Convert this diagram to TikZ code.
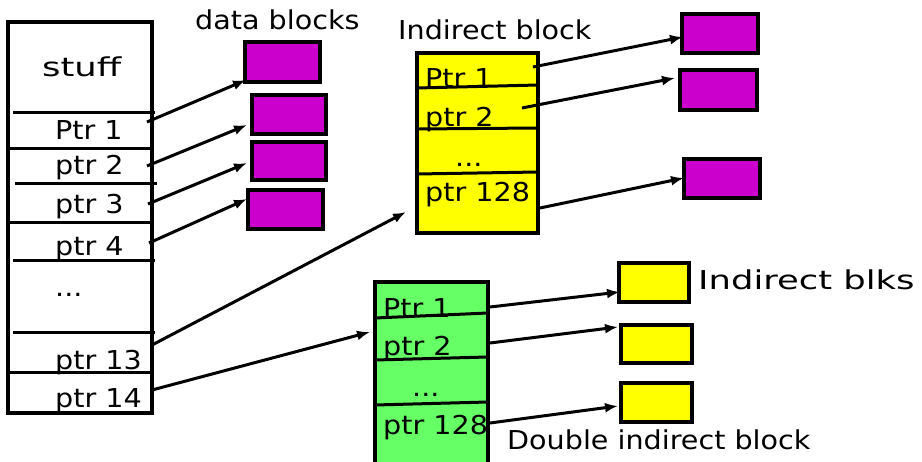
\documentclass[tikz,border=0pt]{standalone}
\usepackage{fontspec}
\setmainfont{DejaVu Sans}[FakeStretch=1.1]
\newfontfamily\widefont{DejaVu Sans}[FakeStretch=1.36]
\usetikzlibrary{arrows.meta}
\definecolor{blkmag}{HTML}{CC00CC}
\definecolor{blkyel}{HTML}{FFFF00}
\definecolor{blkgrn}{HTML}{66FF66}
\begin{document}
\begin{tikzpicture}[x=1pt,y=-1pt,
  bx/.style={draw=black,line width=3.6pt},
  divline/.style={line width=3pt},
  ptr/.style={line width=3pt,-{Latex[length=13pt,width=10pt]}},
  lbl/.style={font=\fontsize{26}{28}\selectfont,inner sep=0pt,anchor=base west},
  widelbl/.style={lbl,font=\fontsize{26}{28}\widefont},
  dblk/.style={bx,fill=blkmag},
  yblk/.style={bx,fill=blkyel}]
\useasboundingbox (0,0) rectangle (922,462);
% inode
\draw[bx] (8,22) rectangle (152,413);
\draw[divline] (13,113) -- (155,113);
\draw[divline] (8,149) -- (152,149);
\draw[divline] (15,184) -- (157,184);
\draw[divline] (8,223) -- (152,223);
\draw[divline] (13,261) -- (155,261);
\draw[divline] (13,333) -- (155,333);
\draw[divline] (8,373) -- (152,373);
\node[widelbl] (stuff) at (42,77) {stuff};
\node[lbl] (lp1) at (55,140) {Ptr 1};
\node[lbl] (lp2) at (55,175) {ptr 2};
\node[lbl] (lp3) at (55,214) {ptr 3};
\node[lbl] (lp4) at (55,256) {ptr 4};
\node[lbl] (ldots) at (55,297) {...};
\node[lbl] (lp13) at (55,370) {ptr 13};
\node[lbl] (lp14) at (55,408) {ptr 14};
% data blocks
\node[lbl] (dlabel) at (195,30) {data blocks};
\draw[dblk] (245,42) rectangle (320,82);
\draw[dblk] (252,95) rectangle (326,134);
\draw[dblk] (252,142) rectangle (326,180);
\draw[dblk] (248,190) rectangle (323,229);
% indirect block
\node[lbl] (ilabel) at (398,40) {Indirect block};
\draw[bx,fill=blkyel] (417,53) rectangle (538,233);
\draw[divline] (417,88) -- (538,85);
\draw[divline] (417,129) -- (538,128);
\draw[divline] (417,174) -- (538,172);
\node[lbl] (ip1) at (425,88) {Ptr 1};
\node[lbl] (ip2) at (425,127) {ptr 2};
\node[lbl] (idots) at (455,167) {...};
\node[lbl] (ip128) at (425,202) {ptr 128};
\draw[dblk] (682,14) rectangle (758,53);
\draw[dblk] (680,70) rectangle (757,110);
\draw[dblk] (684,159) rectangle (760,198);
% double indirect block
\draw[bx,fill=blkgrn] (375,282) rectangle (488,466);
\draw[divline] (375,318) -- (488,313);
\draw[divline] (375,360) -- (488,357);
\draw[divline] (375,405) -- (488,402);
\node[lbl] (gp1) at (383,318) {Ptr 1};
\node[lbl] (gp2) at (383,356) {ptr 2};
\node[lbl] (gdots) at (412,397) {...};
\node[lbl] (gp128) at (383,435) {ptr 128};
\draw[yblk] (619,263) rectangle (689,302);
\draw[yblk] (621,325) rectangle (692,363);
\draw[yblk] (621,383) rectangle (692,422);
\node[widelbl] (yl) at (698,290) {Indirect blks};
\node[lbl] (gl) at (507,450) {Double indirect block};
% arrow endpoints
\coordinate (a1s) at (147,122); \coordinate (a1e) at (246,80);
\coordinate (a2s) at (147,166); \coordinate (a2e) at (247,125);
\coordinate (a3s) at (148,204); \coordinate (a3e) at (247,163);
\coordinate (a4s) at (149,243); \coordinate (a4e) at (247,199);
\coordinate (a13s) at (152,345); \coordinate (a13e) at (406,212);
\coordinate (a14s) at (152,390); \coordinate (a14e) at (370,332);
\coordinate (b1s) at (533,67); \coordinate (b1e) at (683,37);
\coordinate (b2s) at (522,108); \coordinate (b2e) at (675,78);
\coordinate (b3s) at (540,208); \coordinate (b3e) at (684,178);
\coordinate (c1s) at (490,307); \coordinate (c1e) at (620,292);
\coordinate (c2s) at (490,343); \coordinate (c2e) at (618,327);
\coordinate (c3s) at (490,423); \coordinate (c3e) at (618,406);
\draw[ptr] (a1s) -- (a1e);
\draw[ptr] (a2s) -- (a2e);
\draw[ptr] (a3s) -- (a3e);
\draw[ptr] (a4s) -- (a4e);
\draw[ptr] (a13s) -- (a13e);
\draw[ptr] (a14s) -- (a14e);
\draw[ptr] (b1s) -- (b1e);
\draw[ptr] (b2s) -- (b2e);
\draw[ptr] (b3s) -- (b3e);
\draw[ptr] (c1s) -- (c1e);
\draw[ptr] (c2s) -- (c2e);
\draw[ptr] (c3s) -- (c3e);
\end{tikzpicture}
\end{document}
